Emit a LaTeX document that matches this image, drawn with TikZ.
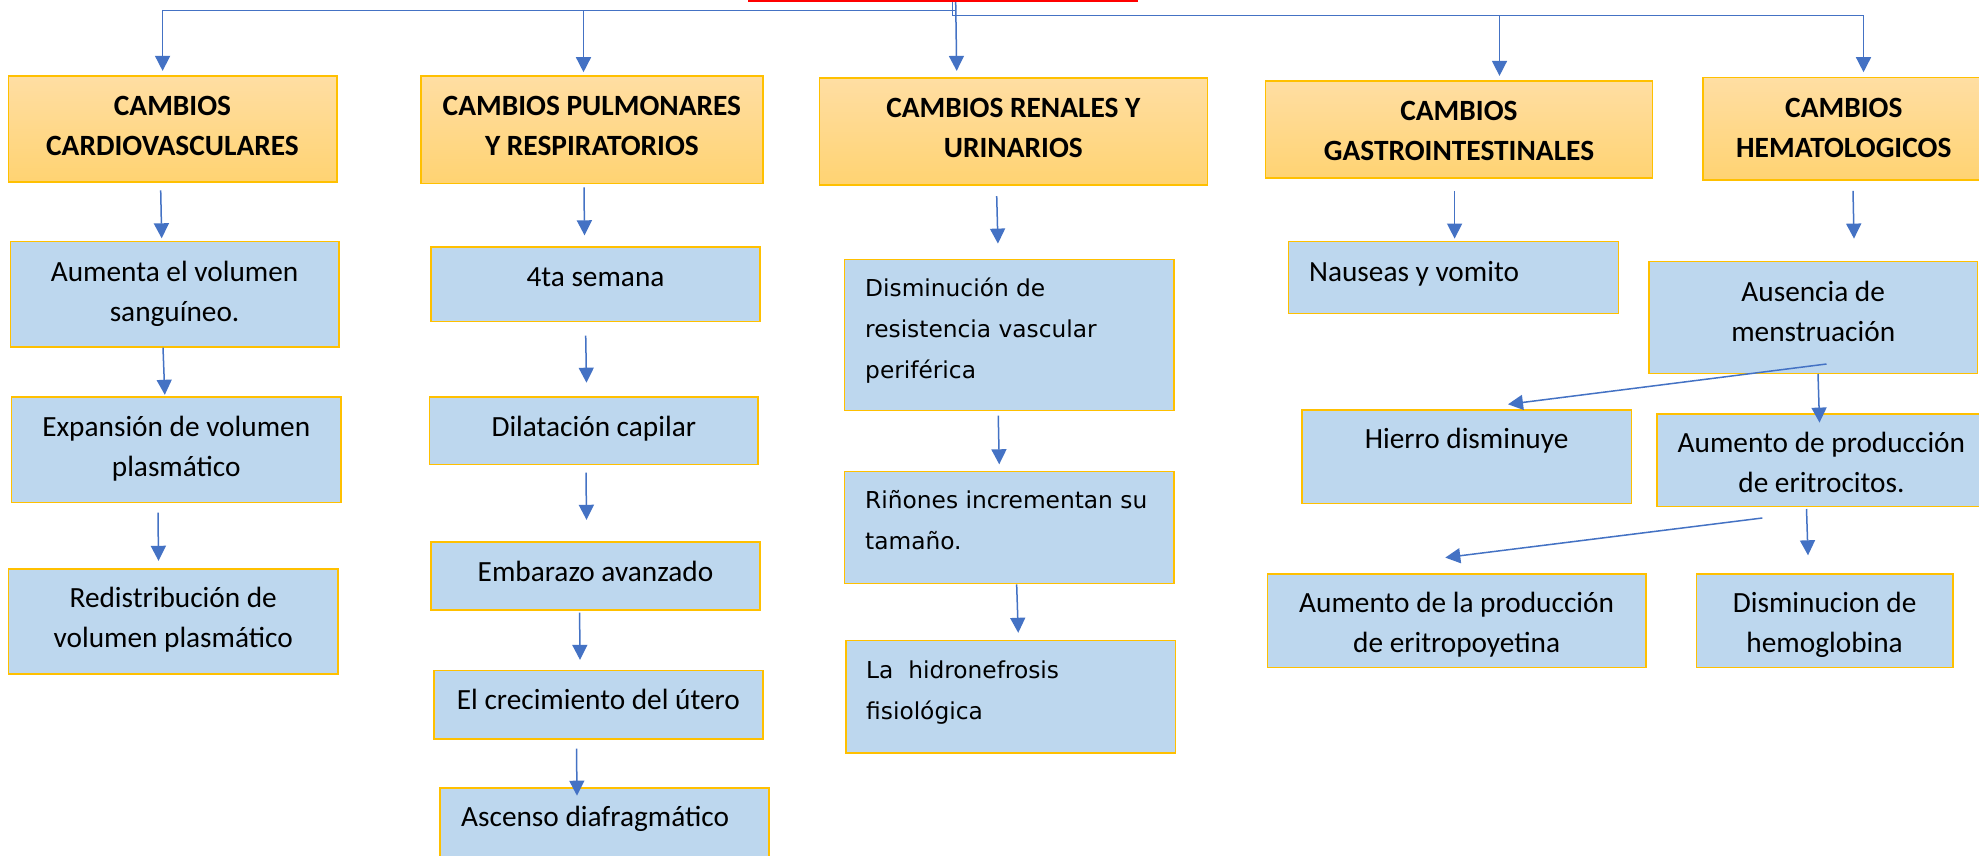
\documentclass[tikz,border=0pt]{standalone}
\usepackage{fontspec}
\setmainfont{Carlito}
\newfontfamily\verdfont{DejaVu Sans}
\usetikzlibrary{arrows.meta,calc,fit}
\definecolor{hdtop}{HTML}{FFDEA3}
\definecolor{hdbot}{HTML}{FFD372}
\definecolor{bxfill}{HTML}{BDD7EE}
\definecolor{bxline}{HTML}{FFC000}
\definecolor{arrcol}{HTML}{4472C4}
\newcommand\sst{\rule[-0.3em]{0pt}{1.3em}}
\begin{document}
\begin{tikzpicture}[x=1pt,y=-1pt,
 hbox/.style={draw=bxline, line width=1.6pt, top color=hdtop, bottom color=hdbot, inner sep=0pt},
 bbox/.style={draw=bxline, line width=1.4pt, fill=bxfill, inner sep=0pt},
 redbox/.style={draw=red, line width=2pt, fill=white, inner sep=0pt},
 tx/.style={inner sep=0pt, align=center, font=\fontsize{29.3}{40}\selectfont},
 htx/.style={inner sep=0pt, align=center, font=\fontsize{29.4}{40}\selectfont\bfseries},
 ltx/.style={inner sep=0pt, align=left, anchor=west, font=\fontsize{29.3}{40}\selectfont},
 vtx/.style={inner sep=0pt, align=left, anchor=west, font=\verdfont\fontsize{23.3}{41}\selectfont},
 arr/.style={draw=arrcol, line width=1.5pt, -{Triangle[length=15pt,width=15pt]}}
]
\useasboundingbox (0,0) rectangle (1979,856);
\fill[white] (0,0) rectangle (1979,856);
\clip (0,0) rectangle (1979,856);

% red title box (cut at the top)
\node[redbox, fit={(749.3,-60) (1136.7,1.2)}] (r) {};

% headers
\node[hbox, fit={(8.3,76) (336.7,181.7)}] (h1) {};
\node[hbox, fit={(421,76) (762.8,183.3)}] (h2) {};
\node[hbox, fit={(819.4,77.8) (1207.3,185)}] (h3) {};
\node[hbox, fit={(1265.4,81) (1652.5,178.3)}] (h4) {};
\node[hbox, fit={(1703,77.7) (1984.6,180)}] (h5) {};

\node[htx] (h1t) at ($(h1.north)+(0,50.5)$) {\sst CAMBIOS\\\sst CARDIOVASCULARES};
\node[htx] (h2t) at ($(h2.north)+(0,50.5)$) {\sst CAMBIOS PULMONARES\\\sst Y RESPIRATORIOS};
\node[htx] (h3t) at ($(h3.north)+(0,50.5)$) {\sst CAMBIOS RENALES Y\\\sst URINARIOS};
\node[htx] (h4t) at ($(h4.north)+(0,50.5)$) {\sst CAMBIOS\\\sst GASTROINTESTINALES};
\node[htx] (h5t) at ($(h5.north)+(0,50.5)$) {\sst CAMBIOS\\\sst HEMATOLOGICOS};

% column 1
\node[bbox, fit={(10.2,241.6) (339,347)}] (a1) {};
\node[bbox, fit={(11.7,396.8) (340.8,502.4)}] (a2) {};
\node[bbox, fit={(8.7,568.8) (337.8,674)}] (a3) {};
\node[tx] (a1t) at ($(a1.north)+(0,50)$) {\sst Aumenta el volumen\\\sst sanguíneo.};
\node[tx] (a2t) at ($(a2.north)+(0,50.5)$) {\sst Expansión de volumen\\\sst plasmático};
\node[tx] (a3t) at ($(a3.north)+(0,49.5)$) {\sst Redistribución de\\\sst volumen plasmático};

% column 2
\node[bbox, fit={(431,246.8) (760,321.4)}] (b1) {};
\node[bbox, fit={(429.6,396.8) (758,464.5)}] (b2) {};
\node[bbox, fit={(431,542) (760,610)}] (b3) {};
\node[bbox, fit={(434,670.5) (762.8,739)}] (b4) {};
\node[bbox, fit={(440,787.8) (769,900)}] (b5) {};
\node[tx] (b1t) at ($(b1.north)+(0,30)$) {\sst 4ta semana};
\node[tx] (b2t) at ($(b2.north)+(0,30)$) {\sst Dilatación capilar};
\node[tx] (b3t) at ($(b3.north)+(0,30)$) {\sst Embarazo avanzado};
\node[tx] (b4t) at ($(b4.north)+(0,29.5)$) {\sst El crecimiento del útero};
\node[ltx] (b5t) at ($(b5.north west)+(21.7,29.2)$) {\sst Ascenso diafragmático};

% column 3
\node[bbox, fit={(844.3,259.6) (1174,410.4)}] (c1) {};
\node[bbox, fit={(844.3,471.6) (1174,583.7)}] (c2) {};
\node[bbox, fit={(846,640.4) (1175.7,753)}] (c3) {};
\node[vtx] (c1t) at ($(c1.north west)+(21.4,70.4)$) {\sst Disminución de\\\sst resistencia vascular\\\sst periférica};
\node[vtx] (c2t) at ($(c2.north west)+(21.4,50.4)$) {\sst Riñones incrementan su\\\sst tamaño.};
\node[vtx] (c3t) at ($(c3.north west)+(20.7,50.7)$) {\sst La\ \ hidronefrosis\\\sst fisiológica};

% column 4 and 5
\node[bbox, fit={(1288.6,241.7) (1618.2,313.3)}] (d1) {};
\node[bbox, fit={(1648.9,261.7) (1977.5,373.3)}] (e1) {};
\node[bbox, fit={(1302,410) (1631.2,503.3)}] (f1) {};
\node[bbox, fit={(1656.8,414) (1986,506.7)}] (f2) {};
\node[bbox, fit={(1267.2,574) (1646,667.3)}] (g1) {};
\node[bbox, fit={(1696.3,574) (1953,667.3)}] (g2) {};
\node[ltx] (d1t) at ($(d1.north west)+(21,30)$) {\sst Nauseas y vomito};
\node[tx] (e1t) at ($(e1.north)+(0,50)$) {\sst Ausencia de\\\sst menstruación};
\node[tx] (f1t) at ($(f1.north)+(0,29.3)$) {\sst Hierro disminuye};
\node[tx] (f2t) at ($(f2.north)+(0,49.3)$) {\sst Aumento de producción\\\sst de eritrocitos.};
\node[tx] (g1t) at ($(g1.north)+(0,48.7)$) {\sst Aumento de la producción\\\sst de eritropoyetina};
\node[tx] (g2t) at ($(g2.north)+(0,48.7)$) {\sst Disminucion de\\\sst hemoglobina};

% connectors from the title box
\draw[arr] ($(r.south west)+(207.4,0)$) -- ++(0,8.5) -| ($(h1.north)+(-9.9,-4.3)$);
\draw[arr] ($(r.south west)+(207.4,0)$) -- ++(0,8.5) -| ($(h2.north)+(-8.4,-3)$);
\draw[arr] ($(r.south west)+(207.4,0)$) -- ($(h3.north)+(-56.65,-6.1)$);
\draw[arr] ($(r.south west)+(204,0)$) -- ++(0,13.5) -| ($(h4.north)+(40.55,-4.3)$);
\draw[arr] ($(r.south west)+(204,0)$) -- ++(0,13.5) -| ($(h5.north)+(19.7,-4.7)$);

% column 1 arrows
\draw[arr] ($(h1.south)+(-11.8,7.8)$) -- ($(a1.north)+(-12.9,-2.6)$);
\draw[arr] ($(a1.south)+(-11.6,0)$) -- ($(a2.north)+(-11.45,-1.3)$);
\draw[arr] ($(a2.south)+(-18.25,9.6)$) -- ($(a3.north)+(-14.75,-7.3)$);

% column 2 arrows
\draw[arr] ($(h2.south)+(-7.9,3.2)$) -- ($(b1.north)+(-11,-10.8)$);
\draw[arr] ($(b1.south)+(-9.8,13.6)$) -- ($(b2.north)+(-7.3,-13.4)$);
\draw[arr] ($(b2.south)+(-7.8,7.5)$) -- ($(b3.north)+(-9,-21.5)$);
\draw[arr] ($(b3.south)+(-15.9,2)$) -- ($(b4.north)+(-18.4,-9.9)$);
\draw[arr] ($(b4.south)+(-21.9,9)$) -- ($(b5.north)+(-27.5,8.6)$);

% column 3 arrows
\draw[arr] ($(h3.south)+(-16.65,10.3)$) -- ($(c1.north)+(-11.2,-15.3)$);
\draw[arr] ($(c1.south)+(-10.9,4.6)$) -- ($(c2.north)+(-9.9,-6.6)$);
\draw[arr] ($(c2.south)+(7.5,0)$) -- ($(c3.north)+(7.4,-6.9)$);

% column 4 and 5 arrows
\draw[arr] ($(h4.south)+(-4.35,11.7)$) -- ($(d1.north)+(1.2,-2.4)$);
\draw[arr] ($(h5.south)+(9.2,10)$) -- ($(e1.north)+(40.8,-22.4)$);
\draw[arr] ($(e1.south)+(13.3,-10)$) -- ($(f1.north)+(41.4,-5)$);
\draw[arr] ($(e1.south)+(4.8,0)$) -- ($(f2.north)+(-1.9,9.3)$);
\draw[arr] ($(f2.south)+(-59.1,10.6)$) -- ($(g1.north)+(-11.3,-15.7)$);
\draw[arr] ($(f2.south)+(-14.9,1.6)$) -- ($(g2.north)+(-16.65,-18)$);
\end{tikzpicture}
\end{document}
